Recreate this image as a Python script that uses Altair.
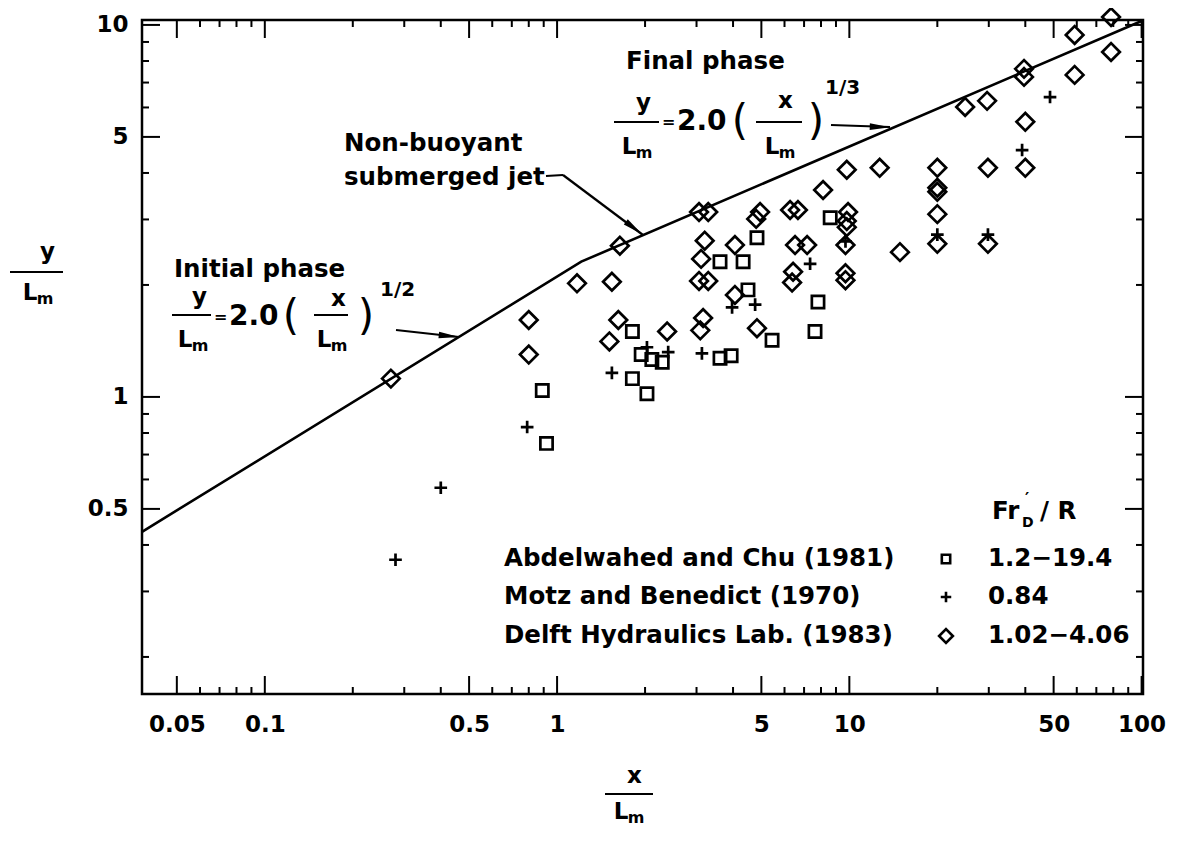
import altair as alt
import pandas as pd

FONT = "DejaVu Sans"
W, H = 1001, 674
FS = 24.5

# ---------------- data ----------------
# Abdelwahed and Chu (1981)  (squares)
sq_x = [0.89, 0.92, 1.81, 1.94, 2.11, 2.29, 1.81, 2.03, 3.61, 4.33, 4.83, 4.50, 5.44, 3.61, 3.94, 7.81, 7.63, 8.60]
sq_y = [1.04, 0.75, 1.50, 1.30, 1.26, 1.24, 1.12, 1.02, 2.31, 2.31, 2.68, 1.94, 1.42, 1.27, 1.29, 1.80, 1.50, 3.03]

# Motz and Benedict (1970)  (plus)
pl_x = [0.28, 0.40, 0.79, 1.54, 2.03, 2.40, 3.13, 3.97, 4.76, 7.34, 9.70, 20.0, 29.8, 39.0, 48.6]
pl_y = [0.365, 0.57, 0.83, 1.16, 1.36, 1.32, 1.31, 1.74, 1.77, 2.28, 2.62, 2.73, 2.73, 4.61, 6.40]

# Delft Hydraulics Lab. (1983)  (diamonds)
dm_x = [0.27, 0.80, 0.80, 1.17, 1.54, 1.64, 1.62, 1.51, 2.38,
        3.06, 3.29, 3.20, 3.11, 3.06, 3.29, 3.16, 3.09,
        4.06, 4.06, 4.83, 4.95, 4.80,
        6.27, 6.67, 6.52, 7.17, 6.42, 6.37,
        8.13,
        9.80, 9.90, 9.80, 9.80, 9.70, 9.70, 9.70,
        12.7, 14.9,
        20.0, 20.0, 20.0, 20.0, 20.0,
        29.8, 29.8, 24.9, 29.6,
        39.6, 39.6, 40.0, 40.0,
        59.0, 59.0, 78.6, 78.6]
dm_y = [1.12, 1.61, 1.30, 2.02, 2.04, 2.55, 1.61, 1.41, 1.50,
        3.14, 3.14, 2.63, 2.35, 2.05, 2.05, 1.63, 1.51,
        2.56, 1.88, 1.53, 3.14, 3.01,
        3.18, 3.18, 2.56, 2.56, 2.17, 2.03,
        3.60,
        4.08, 3.14, 2.97, 2.86, 2.56, 2.15, 2.06,
        4.13, 2.45,
        4.13, 3.65, 3.56, 3.10, 2.58,
        4.13, 2.58, 6.02, 6.25,
        7.62, 7.25, 5.49, 4.13,
        9.40, 7.34, 10.5, 8.46]

# Non-buoyant submerged jet line (vertices)
line_x = [0.038, 1.21, 100.0]
line_y = [0.434, 2.31, 10.25]

# axis ticks
x_labels = [0.05, 0.1, 0.5, 1, 5, 10, 50, 100]
x_minor = [0.06, 0.07, 0.08, 0.09, 0.2, 0.3, 0.4, 0.6, 0.7, 0.8, 0.9,
           2, 3, 4, 6, 7, 8, 9, 20, 30, 40, 60, 70, 80, 90]
y_labels = [0.5, 1, 5, 10]
y_minor = [0.2, 0.3, 0.4, 0.6, 0.7, 0.8, 0.9, 2, 3, 4, 6, 7, 8, 9]

# legend
leg_names = ["Abdelwahed and Chu (1981)", "Motz and Benedict (1970)", "Delft Hydraulics Lab. (1983)"]
leg_ranges = ["1.2\u221219.4", "0.84", "1.02\u22124.06"]

# ---------------- chart ----------------
xs = alt.Scale(type="log", domain=[0.038, 101.1], nice=False)
ys = alt.Scale(type="log", domain=[0.159, 10.31], nice=False)

PLUS = "M-1,0L1,0M0,-1L0,1"
ARROW = "M1,0L-1,-0.32L-1,0.32Z"

axis_common = dict(ticks=False, tickSize=0, domain=False, grid=False, title=None,
                   labelFont=FONT, labelFontSize=23, labelFontWeight="bold",
                   labelColor="black", labelFlush=False, labelOverlap=False, format="~g")
AX = alt.Axis(values=x_labels, labelPadding=19, **axis_common)
AY = alt.Axis(values=y_labels, labelPadding=14, **axis_common)


def XE(field="x"):
    return alt.X(f"{field}:Q", scale=xs, axis=AX)


def YE(field="y"):
    return alt.Y(f"{field}:Q", scale=ys, axis=AY)


layers = []

line = alt.Chart(pd.DataFrame({"x": line_x, "y": line_y})).mark_line(
    color="black", strokeWidth=2.6, clip=False
).encode(x=XE(), y=YE())
layers.append(line)


def xtick_layers(vals, length):
    b = alt.Chart(pd.DataFrame({"x": vals})).mark_rule(color="black", strokeWidth=2)
    return [b.encode(x=XE(), y=alt.value(H), y2=alt.value(H - length)),
            b.encode(x=XE(), y=alt.value(0), y2=alt.value(length))]


def ytick_layers(vals, length):
    b = alt.Chart(pd.DataFrame({"y": vals})).mark_rule(color="black", strokeWidth=2)
    return [b.encode(y=YE(), x=alt.value(0), x2=alt.value(length)),
            b.encode(y=YE(), x=alt.value(W), x2=alt.value(W - length))]


layers += xtick_layers(x_labels, 18)
layers += xtick_layers(x_minor, 7)
layers += ytick_layers(y_labels, 18)
layers += ytick_layers(y_minor, 7)


def pts(xv, yv, shape, size):
    return alt.Chart(pd.DataFrame({"x": xv, "y": yv})).mark_point(
        shape=shape, size=size, filled=False, color="black", strokeWidth=2.7, opacity=1, clip=False
    ).encode(x=XE(), y=YE())


layers.append(pts(sq_x, sq_y, "square", 150))
layers.append(pts(pl_x, pl_y, PLUS, 160))
layers.append(pts(dm_x, dm_y, "diamond", 310))


# ---------------- annotation helpers (pixel positions inside the plot) ----------------
def txt(s, x, y, size=FS, align="left", weight="bold", baseline="middle"):
    return alt.Chart(pd.DataFrame({"t": [s]})).mark_text(
        align=align, baseline=baseline, font=FONT, fontSize=size, fontWeight=weight, color="black"
    ).encode(text="t:N", x=alt.value(x), y=alt.value(y))


def seg(x1, y1, x2, y2, w=2.2):
    return alt.Chart(pd.DataFrame({"t": [0]})).mark_rule(color="black", strokeWidth=w).encode(
        x=alt.value(x1), x2=alt.value(x2), y=alt.value(y1), y2=alt.value(y2))


def head(x, y, angle, size=420):
    return alt.Chart(pd.DataFrame({"t": [0]})).mark_point(
        shape=ARROW, size=size, filled=True, color="black", opacity=1, angle=angle
    ).encode(x=alt.value(x), y=alt.value(y))


def lm(cx, cy, size=23):
    return [txt("L", cx - 7, cy, size=size, align="center"),
            txt("m", cx + 8, cy + 6, size=int(size * 0.72), align="center")]


# Non-buoyant submerged jet
layers += [txt("Non-buoyant", 202, 124), txt("submerged jet", 202, 158),
           seg(404, 156, 421, 155), seg(421, 155, 501, 215), head(492, 208, 36.9)]

# Initial phase
layers += [txt("Initial phase", 32, 250),
           txt("y", 50, 277, size=23), seg(30, 295, 69, 295)] + lm(50, 320) + [
           txt("=", 72, 297, size=16),
           txt("2.0", 87, 297, size=28),
           txt("(", 149, 297, size=42, align="center", weight="normal"),
           txt("x", 189, 279, size=23), seg(172, 295, 206, 295)] + lm(189, 320) + [
           txt(")", 224, 297, size=42, align="center", weight="normal"),
           txt("1/2", 238, 270, size=20),
           seg(254, 310, 317, 317), head(307, 316, 6)]

# Final phase
layers += [txt("Final phase", 484, 42),
           txt("y", 494, 83, size=23), seg(472, 102, 517, 102)] + lm(494, 127) + [
           txt("=", 520, 102, size=16),
           txt("2.0", 535, 102, size=28),
           txt("(", 598, 102, size=42, align="center", weight="normal"),
           txt("x", 636, 81, size=23), seg(614, 102, 660, 102)] + lm(637, 127) + [
           txt(")", 674, 102, size=42, align="center", weight="normal"),
           txt("1/3", 683, 68, size=20),
           seg(689, 105, 748, 107), head(738, 107, 2)]

# Legend
layers += [txt("Fr", 850, 492), txt("\u2032", 883, 479, size=16), txt("D", 880, 503, size=14),
           txt("/ R", 898, 492)]
leg_y = [539, 577, 616]
leg_shapes = [("square", 70), (PLUS, 110), ("diamond", 190)]
for name, rng, yy, (shp, sz) in zip(leg_names, leg_ranges, leg_y, leg_shapes):
    layers.append(txt(name, 362, yy))
    layers.append(txt(rng, 846, yy))
    layers.append(alt.Chart(pd.DataFrame({"t": [0]})).mark_point(
        shape=shp, size=sz, filled=False, color="black", strokeWidth=2.6, opacity=1
    ).encode(x=alt.value(804), y=alt.value(yy)))

# Axis titles (fractions)
layers += [txt("y", -102, 232, size=23), seg(-132, 252, -79, 252)] + lm(-105, 273)
layers += [txt("x", 485, 756, size=23), seg(463, 774, 511, 774)] + lm(486, 792)

chart = alt.layer(*layers).properties(
    width=W, height=H,
    padding={"left": 134, "top": 12, "right": 26, "bottom": 134},
    autosize=alt.AutoSizeParams(type="none"),
    background="white",
).configure_view(stroke="black", strokeWidth=2.5)

chart.save("out.html", embed_options={"renderer": "svg", "actions": False})
